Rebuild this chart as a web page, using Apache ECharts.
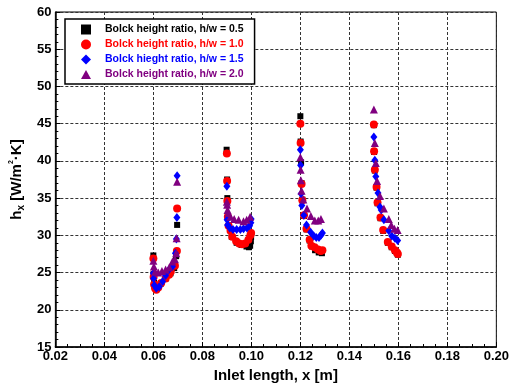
<!DOCTYPE html>
<html>
<head>
<meta charset="utf-8">
<script src="https://cdn.jsdelivr.net/npm/echarts@6/dist/echarts.min.js"></script>
<style>html,body{margin:0;padding:0;background:#fff}#c{width:512px;height:389px}</style>
</head>
<body>
<div id="c"></div>
<script>
// ---- data ----
var seriesNames = [
  'Bolck height ratio, h/w = 0.5',
  'Bolck height ratio, h/w = 1.0',
  'Bolck hieght ratio, h/w = 1.5',
  'Bolck height ratio, h/w = 2.0'
];
var xTickLabels = ['0.02','0.04','0.06','0.08','0.10','0.12','0.14','0.16','0.18','0.20'];
var yTickLabels = ['15','20','25','30','35','40','45','50','55','60'];

// h/w = 0.5
var x05 = [0.0600,0.0601,0.0603,0.0607,0.0615,0.0630,0.0650,0.0670,0.0685,0.0693,0.0697,
           0.0899,0.0901,0.0902,0.0905,0.0920,0.0940,0.0960,0.0980,0.0990,0.0995,0.0998,0.0999,
           0.1200,0.1201,0.1203,0.1205,0.1208,0.1215,0.1225,0.1238,0.1248,0.1260,0.1275,0.1288,
           0.1500,0.1501,0.1504,0.1511,0.1515,0.1527,0.1538,0.1557,0.1573,0.1586,0.1594,0.1598];
var y05 = [27.3,24.8,23.6,23.0,22.9,23.5,24.2,24.9,25.6,27.2,31.4,
           41.5,37.5,35.0,32.5,29.8,29.0,28.7,28.5,28.4,28.6,29.2,29.8,
           46.0,42.6,39.8,37.0,34.8,32.6,30.8,29.3,28.5,28.0,27.7,27.6,
           44.8,41.2,38.7,36.4,34.3,32.3,30.6,29.0,28.4,27.9,27.6,27.4];

// h/w = 1.0
var x10 = [0.0600,0.0601,0.0603,0.0607,0.0612,0.0620,0.0632,0.0650,0.0664,0.0671,0.0688,0.0696,0.0697,
           0.0900,0.0901,0.0902,0.0904,0.0907,0.0915,0.0922,0.0938,0.0950,0.0962,0.0975,0.0988,0.0996,0.0999,
           0.1200,0.1201,0.1205,0.1208,0.1215,0.1225,0.1238,0.1245,0.1258,0.1272,0.1283,0.1290,
           0.1500,0.1501,0.1504,0.1511,0.1515,0.1527,0.1538,0.1557,0.1573,0.1586,0.1594,0.1598];
var y10 = [26.9,24.4,23.4,22.9,22.7,23.0,23.6,24.2,24.7,25.1,25.9,27.9,33.6,
           41.0,37.3,34.6,32.5,31.3,30.6,29.8,29.2,28.9,28.8,28.9,29.4,30.0,30.3,
           45.0,42.4,36.9,34.7,32.7,30.9,29.4,28.6,28.4,28.1,27.9,28.0,
           44.9,41.3,38.8,36.5,34.4,32.4,30.7,29.1,28.5,28.0,27.7,27.5];

// h/w = 1.5
var x15 = [0.0600,0.0601,0.0604,0.0612,0.0624,0.0638,0.0650,0.0662,0.0678,0.0690,0.0694,0.0696,0.0697,
           0.0900,0.0901,0.0903,0.0912,0.0925,0.0940,0.0955,0.0968,0.0982,0.0993,0.0998,0.0999,
           0.1200,0.1201,0.1203,0.1206,0.1214,0.1225,0.1242,0.1255,0.1265,0.1276,0.1284,0.1290,
           0.1500,0.1504,0.1508,0.1517,0.1525,0.1530,0.1541,0.1561,0.1573,0.1586,0.1597];
var y15 = [24.9,24.2,23.3,22.9,23.1,23.8,24.6,25.3,25.8,27.6,29.5,32.4,38.0,
           36.6,32.1,31.4,31.0,30.8,30.8,30.8,30.9,31.0,31.3,31.7,32.2,
           41.5,39.4,35.6,34.0,32.7,31.4,30.4,29.9,29.7,29.7,30.0,30.3,
           43.2,40.1,37.9,35.7,33.8,33.4,32.1,30.6,29.9,29.6,29.3];

// h/w = 2.0
var x20 = [0.0600,0.0602,0.0607,0.0620,0.0635,0.0650,0.0665,0.0678,0.0688,0.0693,0.0695,0.0697,
           0.0900,0.0901,0.0903,0.0906,0.0915,0.0930,0.0948,0.0968,0.0981,0.0995,
           0.1200,0.1201,0.1202,0.1205,0.1212,0.1227,0.1243,0.1259,0.1273,0.1284,
           0.1500,0.1504,0.1508,0.1513,0.1525,0.1541,0.1561,0.1571,0.1584,0.1597];
var y20 = [26.6,25.8,25.1,25.0,25.2,25.4,25.7,26.5,26.8,27.6,29.6,37.2,
           34.5,34.1,33.4,33.0,32.5,32.2,32.1,31.9,32.1,32.5,
           40.5,38.8,37.4,36.0,34.8,33.6,32.6,32.0,32.0,32.2,
           46.9,42.4,39.7,37.3,35.3,33.6,32.2,31.4,30.9,30.7];

// ---- styles ----
var FONT = '"Liberation Sans", Arial, Helvetica, sans-serif';
var colors = ['#000000', '#ff0000', '#0000ff', '#800080'];
var symbols = ['rect', 'circle', 'diamond', 'triangle'];
var sizes = [6, 8, [7, 9], 8];
var legendIconSizes = [[8, 8], [10, 10], [8, 10], [9, 9]];

function zip(xs, ys) { return xs.map(function (x, i) { return [x, ys[i]]; }); }
var allX = [x05, x10, x15, x20], allY = [y05, y10, y15, y20];

var series = seriesNames.map(function (n, i) {
  return {
    name: n, type: 'scatter', data: zip(allX[i], allY[i]),
    symbol: symbols[i], symbolSize: sizes[i],
    itemStyle: { color: colors[i], opacity: 1 },
    z: 2 + i
  };
});

var chart = echarts.init(document.getElementById('c'), null, { renderer: 'canvas' });
chart.setOption({
  animation: false,
  backgroundColor: '#fff',
  grid: { left: 54, right: 15, top: 12, bottom: 42, show: true, borderColor: '#000', borderWidth: 1, backgroundColor: 'transparent' },
  legend: {
    orient: 'vertical', left: 65, top: 19,
    padding: [5, 11, 4, 16],
    itemWidth: 10, itemHeight: 10, itemGap: 4,
    borderColor: '#000', borderWidth: 1.5, backgroundColor: '#fff',
    data: seriesNames.map(function (n, i) {
      return { name: n, icon: symbols[i] === 'rect' ? 'path://M1,1L9,1L9,9L1,9Z' : (symbols[i] === 'triangle' ? 'path://M5,1L9.5,9L0.5,9Z' : symbols[i]), textStyle: { color: colors[i] } };
    }),
    textStyle: { fontFamily: FONT, fontWeight: 'bold', fontSize: 10.5, padding: [0, 0, 0, 9] }
  },
  xAxis: {
    type: 'value', min: 0.02, max: 0.20, interval: 0.02,
    name: 'Inlet length, x [m]', nameLocation: 'middle', nameGap: 20,
    nameTextStyle: { fontFamily: FONT, fontWeight: 'bold', fontSize: 15, color: '#000' },
    axisLine: { show: true, onZero: false, lineStyle: { color: '#000', width: 1.5 } },
    axisTick: { show: true, inside: true, length: 5, lineStyle: { color: '#000' } },
    minorTick: { show: true, splitNumber: 4, length: 3, lineStyle: { color: '#000' } },
    axisLabel: {
      fontFamily: FONT, fontWeight: 'bold', fontSize: 13, color: '#000', margin: 3,
      formatter: function (v) { var i = Math.round((v - 0.02) / 0.02); return xTickLabels[i] || ''; }
    },
    splitLine: { show: true, lineStyle: { color: '#333', width: 1, type: [3, 2] } }
  },
  yAxis: {
    type: 'value', min: 15, max: 60, interval: 5,
    name: '{t|h}{s|x}{t| [W/m}{p|2}{t|·K]}', nameLocation: 'middle', nameGap: 27,
    nameTextStyle: {
      fontFamily: FONT, fontWeight: 'bold', fontSize: 15, color: '#000',
      rich: {
        t: { fontFamily: FONT, fontWeight: 'bold', fontSize: 15, color: '#000', lineHeight: 18, verticalAlign: 'middle' },
        s: { fontFamily: FONT, fontWeight: 'bold', fontSize: 10, color: '#000', lineHeight: 10, verticalAlign: 'bottom' },
        p: { fontFamily: FONT, fontWeight: 'bold', fontSize: 7, color: '#000', lineHeight: 7, verticalAlign: 'top' }
      }
    },
    axisLine: { show: true, onZero: false, lineStyle: { color: '#000', width: 1.5 } },
    axisTick: { show: true, inside: true, length: 5, lineStyle: { color: '#000' } },
    minorTick: { show: true, splitNumber: 5, length: 3, lineStyle: { color: '#000' } },
    axisLabel: {
      fontFamily: FONT, fontWeight: 'bold', fontSize: 13, color: '#000', margin: 4,
      formatter: function (v) { var i = Math.round((v - 15) / 5); return yTickLabels[i] || ''; }
    },
    splitLine: { show: true, lineStyle: { color: '#333', width: 1, type: [3, 2] } }
  },
  series: series
});
</script>
</body>
</html>
